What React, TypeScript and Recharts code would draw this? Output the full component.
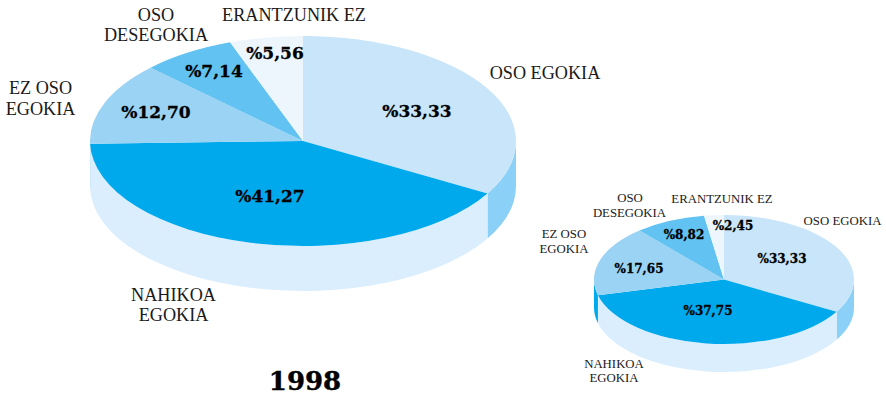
import React from 'react';
import { PieChart, Pie } from 'recharts';

const categories = ['OSO EGOKIA', 'NAHIKOA EGOKIA', 'EZ OSO EGOKIA', 'OSO DESEGOKIA', 'ERANTZUNIK EZ'];
const values1998 = [33.33, 41.27, 12.7, 7.14, 5.56];
const valuesOther = [33.33, 37.75, 17.65, 8.82, 2.45];

const topColors = ['#C8E5F9', '#00A9EC', '#9BD3F5', '#62C2F1', '#EEF6FD'];
const wallColors = ['#8BD0F6', '#DBEEFD', '#00A9EC', '#62C2F1', '#EEF6FD'];

const LABEL_FONT = '"Liberation Serif", serif';
const VALUE_FONT = '"DejaVu Serif", serif';

// [center x, baseline y] for every line of the category labels, then the value label
const bigLabels = [
  { lines: ['OSO EGOKIA'], at: [[545, 79]], value: [417, 117] },
  { lines: ['NAHIKOA', 'EGOKIA'], at: [[173.5, 301], [173.5, 321]], value: [270, 202] },
  { lines: ['EZ OSO', 'EGOKIA'], at: [[40.5, 94], [40.5, 115]], value: [156, 118] },
  { lines: ['OSO', 'DESEGOKIA'], at: [[156, 21], [156, 41]], value: [214, 77] },
  { lines: ['ERANTZUNIK EZ'], at: [[294, 21]], value: [275, 59] },
];
const smallLabels = [
  { lines: ['OSO EGOKIA'], at: [[842.5, 225]], value: [782, 263] },
  { lines: ['NAHIKOA', 'EGOKIA'], at: [[614, 368], [614, 382]], value: [708, 315] },
  { lines: ['EZ OSO', 'EGOKIA'], at: [[564, 238], [564, 253]], value: [639, 273] },
  { lines: ['OSO', 'DESEGOKIA'], at: [[630, 202], [629.5, 217]], value: [684, 239] },
  { lines: ['ERANTZUNIK EZ'], at: [[722, 203]], value: [733, 230] },
];

const toData = (values: number[]) =>
  values.map((value, i) => ({ name: categories[i], value, fill: topColors[i] }));

const formatValue = (v: number) => '%' + v.toFixed(2).replace('.', ',');

// the pie is a flattened circle with a side wall, so the sector is drawn by hand from the angles Recharts gives
const slice3d = (ry: number, depth: number) => (props: any) => {
  const { cx, cy, outerRadius: rx, startAngle, endAngle, index } = props;
  const t0 = 90 - startAngle;
  const t1 = 90 - endAngle;
  const px = (t: number) => cx + rx * Math.sin((t * Math.PI) / 180);
  const py = (t: number) => cy - ry * Math.cos((t * Math.PI) / 180);
  const large = t1 - t0 > 180 ? 1 : 0;
  const top = `M${cx},${cy} L${px(t0)},${py(t0)} A${rx},${ry} 0 ${large} 1 ${px(t1)},${py(t1)} Z`;

  const w0 = Math.max(t0, 90);
  const w1 = Math.min(t1, 270);
  const wall =
    w1 > w0
      ? `M${px(w0)},${py(w0)} A${rx},${ry} 0 0 1 ${px(w1)},${py(w1)} L${px(w1)},${py(w1) + depth} A${rx},${ry} 0 0 0 ${px(w0)},${py(w0) + depth} Z`
      : null;

  return (
    <g>
      {wall && <path d={wall} fill={wallColors[index]} />}
      <path d={top} fill={topColors[index]} />
    </g>
  );
};

const labelRenderer = (layout: typeof bigLabels, labelSize: number, valueSize: number) => (props: any) => {
  const item = layout[props.index];
  return (
    <g key={props.index}>
      {item.lines.map((line, i) => (
        <text
          key={line}
          x={item.at[i][0]}
          y={item.at[i][1]}
          textAnchor="middle"
          fontFamily={LABEL_FONT}
          fontSize={labelSize}
          fill="#1a1a1a"
        >
          {line}
        </text>
      ))}
      <text
        x={item.value[0]}
        y={item.value[1]}
        textAnchor="middle"
        fontFamily={VALUE_FONT}
        fontWeight="bold"
        fontSize={valueSize}
        fill="#000"
        stroke="#000"
        strokeWidth={0.3}
      >
        {formatValue(props.value)}
      </text>
    </g>
  );
};

export default function App() {
  return (
    <div style={{ position: 'absolute', left: 0, top: 0, width: 886, height: 395, background: '#fff' }}>
      <PieChart width={886} height={395} margin={{ top: 0, right: 0, bottom: 0, left: 0 }}>
        <Pie
          data={toData(values1998)}
          dataKey="value"
          cx={303}
          cy={141}
          innerRadius={0}
          outerRadius={213}
          startAngle={90}
          endAngle={-270}
          stroke="none"
          isAnimationActive={false}
          shape={slice3d(105, 45)}
          label={labelRenderer(bigLabels, 18.2, 17)}
          labelLine={false}
        />
        <Pie
          data={toData(valuesOther)}
          dataKey="value"
          cx={724}
          cy={279.5}
          innerRadius={0}
          outerRadius={130}
          startAngle={90}
          endAngle={-270}
          stroke="none"
          isAnimationActive={false}
          shape={slice3d(64.5, 28)}
          label={labelRenderer(smallLabels, 12.8, 12)}
          labelLine={false}
        />
      </PieChart>
      <div
        style={{
          position: 'absolute',
          left: 205,
          width: 200,
          top: 363,
          textAlign: 'center',
          fontFamily: VALUE_FONT,
          fontWeight: 'bold',
          fontSize: 26,
          lineHeight: '36px',
          color: '#000',
          WebkitTextStroke: '0.4px #000',
        }}
      >
        1998
      </div>
    </div>
  );
}
